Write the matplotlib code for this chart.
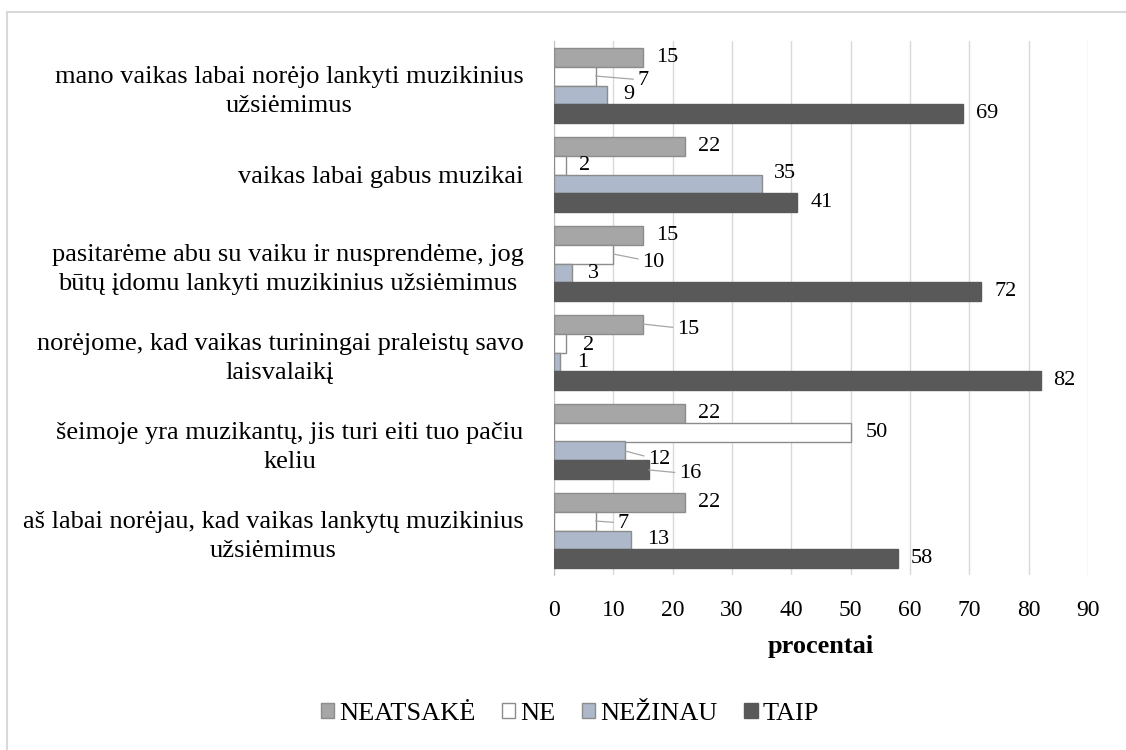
import numpy as np
import matplotlib.pyplot as plt
from matplotlib.patches import Rectangle

plt.rcParams['font.family'] = ['Liberation Serif', 'DejaVu Serif']

# Duomenys
kategorijos = [
    "mano vaikas labai norėjo lankyti muzikinius\nužsiėmimus",
    "vaikas labai gabus muzikai",
    "pasitarėme abu su vaiku ir nusprendėme, jog\nbūtų įdomu lankyti muzikinius užsiėmimus",
    "norėjome, kad vaikas turiningai praleistų savo\nlaisvalaikį",
    "šeimoje yra muzikantų, jis turi eiti tuo pačiu\nkeliu",
    "aš labai norėjau, kad vaikas lankytų muzikinius\nužsiėmimus",
]
serijos = ["NEATSAKĖ", "NE", "NEŽINAU", "TAIP"]
neatsake = [15, 22, 15, 15, 22, 22]
ne = [7, 2, 10, 2, 50, 7]
nezinau = [9, 35, 3, 1, 12, 13]
taip = [69, 41, 72, 82, 16, 58]
xticks = [0, 10, 20, 30, 40, 50, 60, 70, 80, 90]

reiksmes = [neatsake, ne, nezinau, taip]
spalvos = ['#a6a6a6', '#ffffff', '#adb9ca', '#595959']
krastai = ['#8c8c8c', '#8c8c8c', '#8c8c8c', '#595959']

# etikečių poslinkiai pikseliais (dx, dy žemyn) ir ar reikia linijos
poslinkiai = {
    (0, 1): (42, 4, True),
    (0, 2): (16, 0, False),
    (1, 2): (12, -10, False),
    (2, 1): (29, 8, True),
    (2, 2): (16, 1, False),
    (3, 0): (34, 5, True),
    (3, 1): (17, 2, False),
    (3, 2): (17, 1, False),
    (4, 1): (15, 0, False),
    (4, 2): (23, 9, True),
    (4, 3): (30, 4, True),
    (5, 1): (22, 2, True),
    (5, 2): (16, 0, False),
}

fig = plt.figure(figsize=(11.26, 7.5), dpi=100)
ax = fig.add_axes([554 / 1126, 1 - 575 / 750, (1088 - 554) / 1126, (575 - 41) / 750])

n = len(kategorijos)
y = np.arange(n)
h = 0.213
for i, (vals, c, ec) in enumerate(zip(reiksmes, spalvos, krastai)):
    pos = y - 1.5 * h + i * h
    ax.barh(pos, vals, height=h, color=c, edgecolor=ec, linewidth=1.0,
            label=serijos[i], zorder=3)
    for g, (p, v) in enumerate(zip(pos, vals)):
        dx, dy, line = poslinkiai.get((g, i), (13, 0, False))
        props = None
        if line:
            props = dict(arrowstyle='-', color='#a6a6a6', lw=0.9, shrinkA=1, shrinkB=0)
        ax.annotate(str(v), xy=(v, p), xytext=(dx, -dy), textcoords='offset pixels',
                    ha='left', va='center', fontsize=16, arrowprops=props)

ax.set_ylim(n - 0.5, -0.5)
ax.set_xlim(0, 90)
ax.set_xticks(xticks)
ax.set_yticks(y)
ax.set_yticklabels(kategorijos, fontsize=19, linespacing=1.4)
for lab in ax.get_yticklabels():
    lab.set_multialignment('center')
ax.tick_params(axis='x', labelsize=17, length=0, pad=18)
ax.tick_params(axis='y', length=0, pad=22)
ax.grid(axis='x', color='#d9d9d9', lw=1.0, zorder=0)
for s in ['top', 'right', 'bottom']:
    ax.spines[s].set_visible(False)
ax.spines['left'].set_color('#bfbfbf')
ax.set_xlabel('procentai', fontsize=19, fontweight='bold', labelpad=10)

fig.legend(loc='center', bbox_to_anchor=(570 / 1126, 1 - 714 / 750), ncol=4,
           frameon=False, fontsize=19, handlelength=0.5, handleheight=0.5,
           handletextpad=0.2, columnspacing=1.0)

# rėmelis (apačia ir dešinė už paveikslo ribų)
fig.patches.append(Rectangle((7 / 1126, -0.1), 1.2, 1.1 - 12 / 750, transform=fig.transFigure,
                             fill=False, edgecolor='#d9d9d9', lw=1.5))

fig.savefig('out.png', dpi=100)
